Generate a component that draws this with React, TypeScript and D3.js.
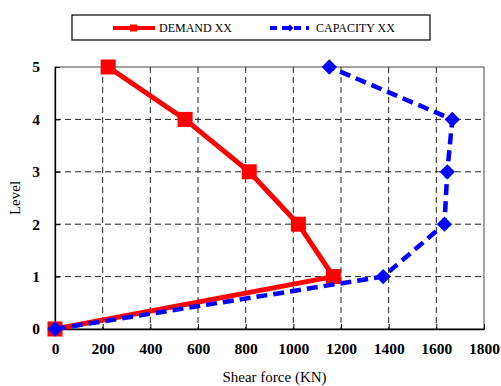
import React, { useEffect, useRef } from 'react';
import * as d3 from 'd3';

// levels (y) and shear force values (x)
const levels = [0, 1, 2, 3, 4, 5];
const demand = [0, 1168, 1021, 815, 546, 223];
const capacity = [0, 1377, 1634, 1646, 1667, 1151];
const xTicks = [0, 200, 400, 600, 800, 1000, 1200, 1400, 1600, 1800];
const yTicks = [0, 1, 2, 3, 4, 5];

const W = 501, H = 386;

export default function App() {
  const ref = useRef<SVGSVGElement>(null);

  useEffect(() => {
    const svg = d3.select(ref.current);
    svg.selectAll('*').remove();

    const margin = { top: 67, right: 17, bottom: 57, left: 55 };
    const width = W - margin.left - margin.right;
    const height = H - margin.top - margin.bottom;
    const font = 'Liberation Serif, Times New Roman, serif';

    const x = d3.scaleLinear().domain([0, 1800]).range([0, width]);
    const y = d3.scaleLinear().domain([0, 5]).range([height, 0]);

    const g = svg.append('g').attr('transform', `translate(${margin.left},${margin.top})`);

    // grid
    g.selectAll('.vgrid').data(xTicks.slice(1, -1)).enter().append('line')
      .attr('x1', d => x(d)).attr('x2', d => x(d))
      .attr('y1', 0).attr('y2', height)
      .attr('stroke', '#222').attr('stroke-width', 1).attr('stroke-dasharray', '6,4');
    g.selectAll('.hgrid').data(yTicks.slice(1, -1)).enter().append('line')
      .attr('x1', 0).attr('x2', width)
      .attr('y1', d => y(d)).attr('y2', d => y(d))
      .attr('stroke', '#222').attr('stroke-width', 1).attr('stroke-dasharray', '6,4');

    // plot border
    g.append('rect').attr('x', 0).attr('y', 0).attr('width', width).attr('height', height)
      .attr('fill', 'none').attr('stroke', '#444').attr('stroke-width', 1);

    // axes
    const xAxis = g.append('g').attr('transform', `translate(0,${height})`)
      .call(d3.axisBottom(x).tickValues(xTicks).tickSize(5).tickSizeOuter(0).tickPadding(9).tickFormat(d3.format('d')));
    const yAxis = g.append('g')
      .call(d3.axisLeft(y).tickValues(yTicks).tickSize(5).tickSizeOuter(0).tickPadding(10).tickFormat(d3.format('d')));
    [xAxis, yAxis].forEach(a => {
      a.attr('font-family', font).attr('font-size', 15.5).attr('font-weight', 'bold');
      a.select('.domain').attr('stroke', '#000').attr('stroke-width', 1.3);
      a.selectAll('.tick line').attr('stroke', '#000');
      a.selectAll('.tick text').attr('fill', '#000');
    });
    xAxis.selectAll('.tick line').attr('y1', -5).attr('y2', 0);
    yAxis.selectAll('.tick line').attr('x1', 0).attr('x2', 5);

    // lines
    const line = d3.line<[number, number]>().x(d => x(d[0])).y(d => y(d[1]));
    const demandPts: [number, number][] = demand.map((v, i) => [v, levels[i]]);
    const capacityPts: [number, number][] = capacity.map((v, i) => [v, levels[i]]);

    g.append('path').datum(demandPts).attr('d', line)
      .attr('fill', 'none').attr('stroke', '#ff0000').attr('stroke-width', 5);
    g.selectAll('.dm').data(demandPts).enter().append('rect')
      .attr('x', d => x(d[0]) - 7.5).attr('y', d => y(d[1]) - 7.5)
      .attr('width', 15).attr('height', 15).attr('fill', '#ff0000');

    g.append('path').datum(capacityPts).attr('d', line)
      .attr('fill', 'none').attr('stroke', '#0000ff').attr('stroke-width', 4.5)
      .attr('stroke-dasharray', '11,6');
    const diamond = d3.symbol().type(d3.symbolDiamond2).size(150);
    g.selectAll('.cm').data(capacityPts).enter().append('path')
      .attr('d', diamond)
      .attr('transform', d => `translate(${x(d[0])},${y(d[1])})`)
      .attr('fill', '#0000ff');

    // axis titles
    svg.append('text').attr('x', margin.left + width / 2 + 5).attr('y', 382)
      .attr('text-anchor', 'middle').attr('font-family', font).attr('font-size', 15)
      .text('Shear force (KN)');
    svg.append('text').attr('transform', `translate(20,${margin.top + height / 2}) rotate(-90)`)
      .attr('text-anchor', 'middle').attr('font-family', font).attr('font-size', 15)
      .text('Level');

    // legend
    const lg = svg.append('g');
    lg.append('rect').attr('x', 72).attr('y', 15).attr('width', 358).attr('height', 25)
      .attr('fill', '#fff').attr('stroke', '#000').attr('stroke-width', 1.2);
    lg.append('line').attr('x1', 113).attr('x2', 155).attr('y1', 28).attr('y2', 28)
      .attr('stroke', '#ff0000').attr('stroke-width', 4);
    lg.append('rect').attr('x', 130).attr('y', 24.5).attr('width', 7).attr('height', 7).attr('fill', '#ff0000');
    lg.append('text').attr('x', 159).attr('y', 32).attr('font-family', font).attr('font-size', 12)
      .text('DEMAND XX');
    lg.append('line').attr('x1', 270).attr('x2', 309).attr('y1', 28).attr('y2', 28)
      .attr('stroke', '#0000ff').attr('stroke-width', 4).attr('stroke-dasharray', '7,5');
    lg.append('path').attr('d', d3.symbol().type(d3.symbolDiamond2).size(30))
      .attr('transform', 'translate(290,28)').attr('fill', '#0000ff');
    lg.append('text').attr('x', 316).attr('y', 32).attr('font-family', font).attr('font-size', 12)
      .text('CAPACITY XX');
  }, []);

  return <svg ref={ref} width={W} height={H} style={{ position: 'absolute', left: 0, top: 0, background: '#fff' }} />;
}
